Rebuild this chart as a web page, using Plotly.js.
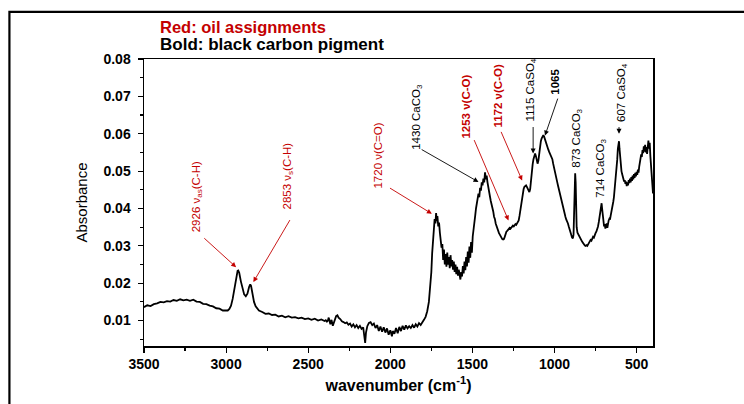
<!DOCTYPE html>
<html>
<head>
<meta charset="utf-8">
<script src="https://cdn.plot.ly/plotly-3.0.1.min.js"></script>
<style>html,body{margin:0;padding:0;background:#fff;}#chart{width:744px;height:404px;}</style>
</head>
<body>
<div id="chart"></div>
<script>
// ---- data ----
var wavenumber = [
3500,3480,3460,3440,3420,3400,3380,3360,3340,3320,3300,3280,3260,3240,3220,3200,3180,3160,3140,3120,3100,3080,3060,3040,3020,3000,
2990,2980,2970,2960,2950,2940,2930,2926,2920,2910,2900,2890,2880,2870,2860,2853,2848,2840,2830,2820,2810,2800,
2780,2760,2740,2720,2700,2680,2660,2640,2620,2600,2580,2560,2540,2520,2500,2480,2460,2440,2420,2400,2393,2386,2380,
2375,2365,2358,2350,2340,2330,2322,2315,2305,2295,2285,2275,2265,2255,2245,2235,2225,2215,2205,2195,2185,2175,2165,2158,2153,2148,2140,2130,2120,2110,2100,
2090,2080,2070,2060,2050,2040,2030,2020,2010,2000,1990,1985,1975,1965,1955,1945,1935,1925,1915,1905,1895,1885,1875,1865,1855,1845,1835,1825,1815,1805,
1795,1785,1775,1765,1758,1750,1745,1740,1735,1730,1725,1721,1717,1713,1708,1703,1698,1693,1688,1683,1678,1673,1668,1663,1658,1653,1648,1643,1638,1633,
1628,1623,1618,1613,1608,1603,1598,1593,1588,1583,1578,1573,1568,1563,1558,1553,1548,1543,1538,1533,1528,1523,1518,1513,1508,1503,1498,1493,1488,1483,
1478,1473,1468,1463,1458,1453,1448,1443,1438,1433,1428,1423,1418,1413,1408,1403,1398,1393,1388,1383,1378,1373,1368,1363,1358,1353,1348,1343,1338,1333,
1328,1323,1318,1313,1308,1303,1298,1293,1288,1283,1278,1273,1268,1263,1258,1253,1248,1243,1238,1233,1228,1223,1218,1213,1208,1203,1198,1193,1188,1183,
1178,1173,1168,1163,1158,1153,1148,1143,1138,1133,1128,1123,1118,1113,1108,1103,1098,1093,1088,1083,1078,1073,1068,1063,1058,1053,1048,1043,1038,1033,
1028,1023,1018,1013,1008,1003,998,993,988,983,978,973,968,963,958,953,948,943,938,933,928,923,918,913,908,903,898,893,888,884,
880,877,874,871,868,865,860,855,850,845,840,835,830,825,820,815,810,805,800,795,790,785,780,775,770,765,760,755,750,745,
740,735,730,725,720,716,713,710,706,702,698,694,690,686,682,678,674,670,666,662,658,654,650,646,642,638,634,630,626,622,
618,614,610,607,604,600,596,592,588,584,580,576,572,568,564,560,556,552,548,544,540,536,532,528,524,520,516,512,508,504,
500,496,492,488,484,480,476,472,468,464,460,456,452,448,444,440,436,432,428,424,420,416,412,408,404,400
];
var absorbance = [
0.0136,0.0141,0.0139,0.0144,0.0146,0.0150,0.0149,0.0152,0.0151,0.0155,0.0153,0.0157,0.0154,0.0156,0.0153,0.0156,0.0151,0.0150,0.0145,0.0144,0.0140,0.0138,0.0133,0.0132,0.0127,0.0126,
0.0127,0.0131,0.0140,0.0158,0.0185,0.0218,0.0233,0.0234,0.0228,0.0205,0.0184,0.0170,0.0165,0.0172,0.0190,0.0197,0.0193,0.0172,0.0150,0.0138,0.0131,0.0127,
0.0123,0.0118,0.0119,0.0115,0.0116,0.0111,0.0113,0.0109,0.0112,0.0108,0.0109,0.0106,0.0108,0.0104,0.0106,0.0102,0.0105,0.0100,0.0103,0.0099,0.0101,0.0097,0.0100,
0.0108,0.0090,0.0102,0.0086,0.0098,0.0112,0.0114,0.0108,0.0104,0.0098,0.0096,0.0093,0.0095,0.0089,0.0092,0.0084,0.0090,0.0082,0.0088,0.0080,0.0086,0.0078,0.0082,0.0060,0.0040,0.0068,0.0085,0.0094,0.0096,0.0088,0.0092,
0.0080,0.0088,0.0072,0.0084,0.0070,0.0082,0.0068,0.0079,0.0062,0.0074,0.0058,0.0072,0.0065,0.0080,0.0066,0.0083,0.0072,0.0086,0.0076,0.0087,0.0079,0.0085,0.0080,0.0088,0.0081,0.0090,0.0084,0.0093,0.0088,0.0097,
0.0102,0.0110,0.0125,0.0150,0.0180,0.0230,0.0280,0.0320,0.0350,0.0372,0.0360,0.0388,0.0366,0.0380,0.0352,0.0362,0.0335,0.0310,0.0295,0.0305,0.0262,0.0290,0.0250,0.0278,0.0244,0.0282,0.0250,0.0270,0.0240,0.0275,
0.0245,0.0262,0.0236,0.0258,0.0230,0.0250,0.0224,0.0244,0.0220,0.0236,0.0212,0.0210,0.0230,0.0218,0.0246,0.0226,0.0258,0.0235,0.0270,0.0245,0.0285,0.0255,0.0298,0.0268,0.0310,0.0282,0.0325,0.0340,0.0365,0.0380,
0.0400,0.0412,0.0420,0.0440,0.0430,0.0455,0.0448,0.0470,0.0462,0.0480,0.0470,0.0497,0.0478,0.0488,0.0470,0.0460,0.0445,0.0432,0.0420,0.0412,0.0400,0.0392,0.0378,0.0372,0.0360,0.0352,0.0346,0.0340,0.0334,0.0330,
0.0325,0.0322,0.0318,0.0317,0.0318,0.0324,0.0332,0.0338,0.0340,0.0344,0.0346,0.0348,0.0346,0.0350,0.0352,0.0354,0.0352,0.0355,0.0358,0.0356,0.0360,0.0362,0.0368,0.0380,0.0395,0.0412,0.0428,0.0442,0.0452,0.0458,
0.0462,0.0462,0.0458,0.0452,0.0446,0.0444,0.0452,0.0478,0.0500,0.0518,0.0532,0.0542,0.0547,0.0540,0.0528,0.0520,0.0528,0.0548,0.0566,0.0580,0.0588,0.0594,0.0596,0.0592,0.0584,0.0576,0.0570,0.0562,0.0558,0.0552,
0.0548,0.0544,0.0538,0.0532,0.0520,0.0508,0.0498,0.0490,0.0480,0.0470,0.0460,0.0450,0.0440,0.0430,0.0420,0.0410,0.0400,0.0392,0.0384,0.0377,0.0370,0.0366,0.0360,0.0352,0.0346,0.0338,0.0330,0.0322,0.0320,0.0330,
0.0380,0.0460,0.0494,0.0470,0.0400,0.0350,0.0335,0.0330,0.0326,0.0322,0.0318,0.0314,0.0310,0.0306,0.0303,0.0301,0.0300,0.0302,0.0300,0.0304,0.0308,0.0310,0.0316,0.0314,0.0320,0.0324,0.0322,0.0330,0.0334,0.0338,
0.0344,0.0352,0.0364,0.0378,0.0394,0.0406,0.0414,0.0400,0.0380,0.0362,0.0352,0.0358,0.0346,0.0354,0.0360,0.0348,0.0362,0.0368,0.0372,0.0370,0.0380,0.0388,0.0398,0.0410,0.0418,0.0430,0.0448,0.0468,0.0480,0.0500,
0.0530,0.0560,0.0578,0.0580,0.0560,0.0530,0.0510,0.0500,0.0492,0.0484,0.0478,0.0472,0.0476,0.0466,0.0472,0.0460,0.0470,0.0462,0.0476,0.0468,0.0480,0.0470,0.0484,0.0474,0.0488,0.0478,0.0492,0.0482,0.0495,0.0486,
0.0498,0.0490,0.0504,0.0496,0.0512,0.0520,0.0530,0.0545,0.0538,0.0556,0.0548,0.0566,0.0552,0.0570,0.0550,0.0564,0.0546,0.0572,0.0582,0.0560,0.0576,0.0540,0.0520,0.0490,0.0462,0.0440
];
var xTickVals = [3500, 3000, 2500, 2000, 1500, 1000, 500];
var xTickText = ["3500", "3000", "2500", "2000", "1500", "1000", "500"];
var yTickVals = [0.01, 0.02, 0.03, 0.04, 0.05, 0.06, 0.07, 0.08];
var yTickText = ["0.01", "0.02", "0.03", "0.04", "0.05", "0.06", "0.07", "0.08"];
var xMinorVals = [3250, 2750, 2250, 1750, 1250, 750];
var yMinorVals = [0.005, 0.015, 0.025, 0.035, 0.045, 0.055, 0.065, 0.075];

// band labels: text, label position, arrow tail, arrow head, colour, bold
var bandText = ["2926 ν<sub>as</sub>(C-H)", "2853 ν<sub>s</sub>(C-H)", "1720 ν(C=O)", "1430 CaCO<sub>3</sub>",
  "1253 ν(C-O)", "1172 ν(C-O)", "1115 CaSO<sub>4</sub>", "1065", "873 CaCO<sub>3</sub>", "714 CaCO<sub>3</sub>", "607 CaSO<sub>4</sub>"];
var bandIsOil = [true, true, true, false, true, true, false, false, false, false, false];
var bandIsBold = [false, false, false, false, true, true, false, true, false, false, false];

var RED = "#c40000";
var labelPos = [[3177,0.0430],[2622,0.0486],[2074,0.0542],[1842,0.0646],[1538,0.0673],[1343,0.0700],[1142,0.0716],[995,0.0740],[868,0.0587],[715,0.0507],[593,0.0710]];
var arrowTail = [[3142,0.0324],[2606,0.0373],[2011,0.0457],[1818,0.0560],[1493,0.0587],[1329,0.0609],[1130,0.0622],[977,0.0698],null,null,[607,0.0622]];
var arrowHead = [[2939,0.0243],[2834,0.0203],[1747,0.0386],[1463,0.0471],[1280,0.0368],[1197,0.0475],[1130,0.0547],[1058,0.0595],null,null,[607,0.0600]];

var annotations = [];
for (var i = 0; i < bandText.length; i++) {
  var col = bandIsOil[i] ? RED : "#000000";
  var txt = bandIsBold[i] ? "<b>" + bandText[i] + "</b>" : bandText[i];
  annotations.push({
    x: labelPos[i][0], y: labelPos[i][1], xref: "x", yref: "y",
    text: txt, textangle: -90, showarrow: false,
    xanchor: "center", yanchor: "middle",
    font: {family: "Liberation Sans Narrow, Arial Narrow, Liberation Sans, Arial, sans-serif", size: 11.5, color: col}
  });
  if (arrowTail[i]) {
    annotations.push({
      x: arrowHead[i][0], y: arrowHead[i][1], xref: "x", yref: "y",
      ax: arrowTail[i][0], ay: arrowTail[i][1], axref: "x", ayref: "y",
      text: "", showarrow: true, arrowhead: 2, arrowsize: 1.1, arrowwidth: 0.9,
      arrowcolor: bandIsOil[i] ? RED : "#000000", standoff: 0, startstandoff: 0
    });
  }
}
annotations.push({
  x: 0.0275, y: 1.112, xref: "paper", yref: "paper", xanchor: "left", yanchor: "middle",
  text: "<b>Red: oil assignments</b>", showarrow: false,
  font: {family: "Liberation Sans, Arial, sans-serif", size: 16.5, color: RED}
});
annotations.push({
  x: 0.0275, y: 1.050, xref: "paper", yref: "paper", xanchor: "left", yanchor: "middle",
  text: "<b>Bold: black carbon pigment</b>", showarrow: false,
  font: {family: "Liberation Sans, Arial, sans-serif", size: 17, color: "#000000"}
});

var trace = {
  x: wavenumber, y: absorbance, type: "scatter", mode: "lines",
  line: {color: "#000000", width: 1.8}, hoverinfo: "skip", showlegend: false
};

var layout = {
  width: 744, height: 404,
  margin: {l: 144, r: 91.3, t: 59, b: 58.3, pad: 0},
  paper_bgcolor: "#ffffff", plot_bgcolor: "#ffffff",
  font: {family: "Liberation Sans, Arial, sans-serif", color: "#000000"},
  showlegend: false,
  xaxis: {
    range: [3500, 400], autorange: false,
    tickmode: "array", tickvals: xTickVals, ticktext: xTickText,
    ticks: "outside", ticklen: 5, tickwidth: 1.2, tickcolor: "#000",
    minor: {tickmode: "array", tickvals: xMinorVals, ticks: "outside", ticklen: 3, tickwidth: 1.2, tickcolor: "#000", showgrid: false},
    showline: true, linecolor: "#000", linewidth: 1.5, mirror: true,
    showgrid: false, zeroline: false,
    tickfont: {family: "Liberation Sans, Arial, sans-serif", size: 14, color: "#000", weight: "bold"},
    title: {text: "<b>wavenumber (cm<sup>-1</sup>)</b>", font: {family: "Liberation Sans, Arial, sans-serif", size: 16, color: "#000"}, standoff: 8}
  },
  yaxis: {
    range: [0.0032, 0.08], autorange: false,
    tickmode: "array", tickvals: yTickVals, ticktext: yTickText,
    ticks: "outside", ticklen: 5, tickwidth: 1.2, tickcolor: "#000",
    minor: {tickmode: "array", tickvals: yMinorVals, ticks: "outside", ticklen: 3, tickwidth: 1.2, tickcolor: "#000", showgrid: false},
    showline: true, linecolor: "#000", linewidth: 1.5, mirror: true,
    showgrid: false, zeroline: false,
    ticklabelstandoff: 4,
    tickfont: {family: "Liberation Sans, Arial, sans-serif", size: 14, color: "#000", weight: "bold"},
    title: {text: "Absorbance", font: {family: "Liberation Sans, Arial, sans-serif", size: 15, color: "#000"}, standoff: 12}
  },
  annotations: annotations,
  shapes: [{
    type: "rect", xref: "paper", yref: "paper",
    x0: -0.2644, x1: 1.25, y0: -0.30, y1: 1.1639,
    line: {color: "#000", width: 2.2}, fillcolor: "rgba(0,0,0,0)", layer: "above"
  }]
};

Plotly.newPlot("chart", [trace], layout, {staticPlot: true, displayModeBar: false});
</script>
</body>
</html>
